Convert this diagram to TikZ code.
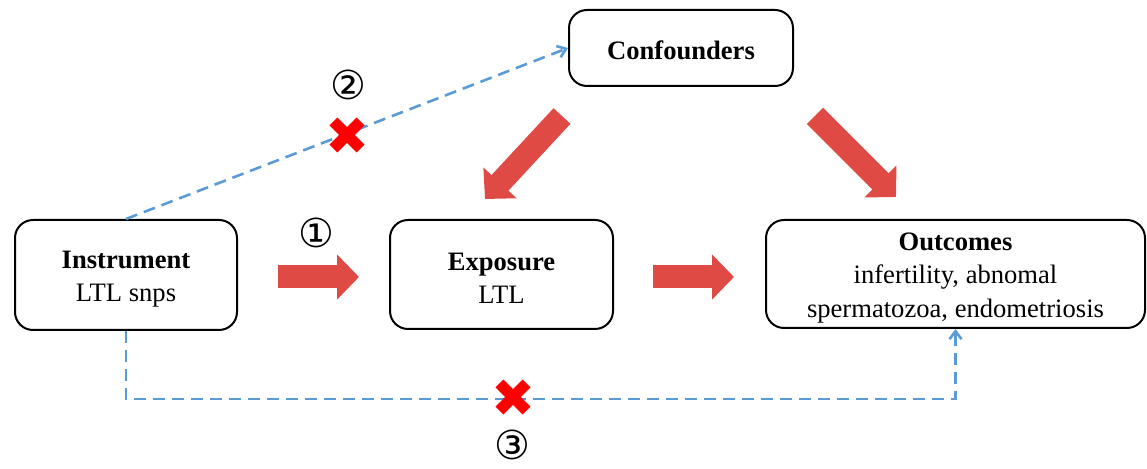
\documentclass[tikz,border=0pt]{standalone}
\usepackage{fontspec}
\setmainfont{Liberation Serif}
\newfontfamily\symfont{DejaVu Sans}
\usetikzlibrary{arrows.meta}
\definecolor{blockred}{HTML}{E04A44}
\definecolor{dashblue}{HTML}{5B9BD5}
\definecolor{xred}{HTML}{FF0000}
\tikzset{
  box/.style={draw=black, line width=1pt, rounded corners=9pt, inner sep=0pt},
  boxtext/.style={align=center, font=\fontsize{13.3}{16.75}\selectfont, inner sep=0pt, yshift=-2pt},
  blockarrow/.style={draw=blockred, line width=11.5pt, -{Triangle[length=11pt,width=22pt]}},
  dashlink/.style={draw=dashblue, line width=1.3pt, dash pattern=on 6pt off 3.5pt,
    -{Straight Barb[length=4pt,width=6pt]}},
  xmark/.style={draw=xred, line width=5.5pt},
  circnum/.style={font=\symfont\fontsize{20}{20}\selectfont, inner sep=0pt},
}
\begin{document}
\begin{tikzpicture}[x=0.5pt,y=-0.5pt]
\useasboundingbox (0,0) rectangle (1147,469);
% boxes
\node[box, minimum width=112pt, minimum height=38pt,
  label={[boxtext, yshift=1pt]center:{\textbf{Confounders}}}] (conf) at (681,48) {};
\node[box, minimum width=111pt, minimum height=55pt,
  label={[boxtext]center:{\textbf{Instrument}\\LTL snps}}] (inst) at (126,275) {};
\node[box, minimum width=111.5pt, minimum height=54.5pt,
  label={[boxtext]center:{\textbf{Exposure}\\LTL}}] (expo) at (501.5,274.5) {};
\node[box, minimum width=189.5pt, minimum height=54pt,
  label={[boxtext]center:{\textbf{Outcomes}\\infertility, abnomal\\spermatozoa, endometriosis}}] (outc) at (955.5,274) {};
% block arrow endpoints
\coordinate (a1s) at (278,277);
\coordinate (a1e) at (359,277);
\coordinate (a2s) at (653,277);
\coordinate (a2e) at (734,277);
\coordinate (a3s) at (562,116);
\coordinate (a3e) at (485,199);
\coordinate (a4s) at (815,116);
\coordinate (a4e) at (896,197);
\draw[blockarrow] (a1s) -- (a1e);
\draw[blockarrow] (a2s) -- (a2e);
\draw[blockarrow] (a3s) -- (a3e);
\draw[blockarrow] (a4s) -- (a4e);
% dashed links
\draw[dashlink] (inst.north) -- (conf.west);
\draw[dashlink] (inst.south) -- ++(0,68) -| (outc.south);
% X marks
\coordinate (x2) at (347,135);
\coordinate (x3) at (513,397);
\draw[xmark] (x2) ++(-13.6,-13.6) -- ++(27.2,27.2);
\draw[xmark] (x2) ++(13.6,-13.6) -- ++(-27.2,27.2);
\draw[xmark] (x3) ++(-13.6,-13.6) -- ++(27.2,27.2);
\draw[xmark] (x3) ++(13.6,-13.6) -- ++(-27.2,27.2);
% circled numbers
\node[circnum] (n1) at (316,233) {①};
\node[circnum] (n2) at (348,85) {②};
\node[circnum] (n3) at (512,445) {③};
\end{tikzpicture}
\end{document}
